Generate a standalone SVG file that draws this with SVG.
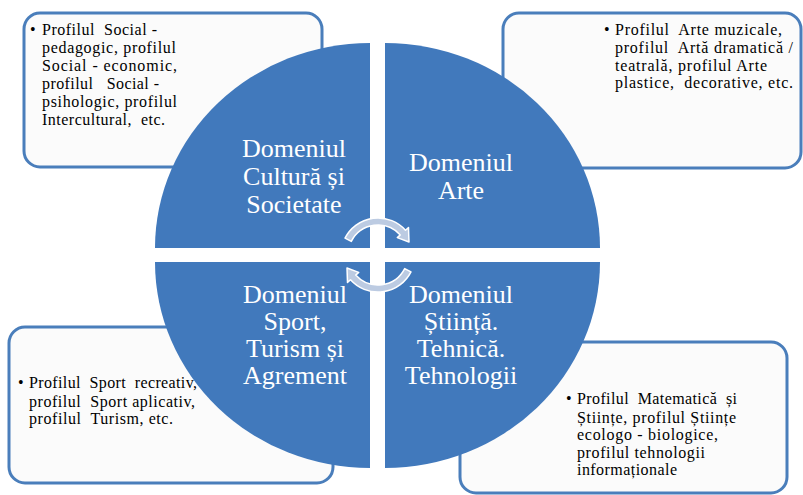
<svg xmlns="http://www.w3.org/2000/svg" width="803" height="495" viewBox="0 0 803 495">
<style>
.box{fill:#fbfbfb;stroke:#4a7ebb;stroke-width:3}
.bt{font-family:'Liberation Serif','Tinos','DejaVu Serif',serif;font-size:16px;fill:#000;white-space:pre}
.q{fill:#4179bc}
.ql{font-family:'Liberation Serif','Tinos','DejaVu Serif',serif;font-size:26px;fill:#fff;text-anchor:middle}
.arr{fill:#bccbe2;stroke:#fff;stroke-width:1.5;stroke-linejoin:round}
</style>
<defs>
<path id="carrow" d="M345 238.2 A37 37 0 0 1 405.5 230.2 L408.5 227.6 L409 242 L397.3 237.6 L400.3 234.9 A30 30 0 0 0 351.3 241.4 Z"/>
</defs>
<rect width="803" height="495" fill="#fff"/>
<g id="box-cultura">
<rect class="box" x="24" y="13" width="298" height="154" rx="16"/>
<text class="bt" x="30" y="35">&#x2022;</text>
<text class="bt" x="42" y="35" textLength="115">Profilul  Social -</text>
<text class="bt" x="42" y="53" textLength="134">pedagogic, profilul</text>
<text class="bt" x="42" y="71" textLength="135">Social - economic,</text>
<text class="bt" x="42" y="89" textLength="117">profilul   Social -</text>
<text class="bt" x="42" y="107" textLength="135">psihologic, profilul</text>
<text class="bt" x="42" y="125" textLength="123">Intercultural,  etc.</text>
</g>
<g id="box-arte">
<rect class="box" x="503" y="13" width="298" height="155" rx="16"/>
<text class="bt" x="604" y="35">&#x2022;</text>
<text class="bt" x="615" y="35" textLength="167">Profilul  Arte muzicale,</text>
<text class="bt" x="615" y="53" textLength="178">profilul  Art&#x103; dramatic&#x103; /</text>
<text class="bt" x="615" y="71" textLength="152">teatral&#x103;, profilul Arte</text>
<text class="bt" x="615" y="88" textLength="178">plastice,  decorative, etc.</text>
</g>
<g id="box-sport">
<rect class="box" x="9" y="327" width="324" height="156" rx="16"/>
<text class="bt" x="18" y="388">&#x2022;</text>
<text class="bt" x="29" y="388" textLength="168">Profilul  Sport  recreativ,</text>
<text class="bt" x="29" y="407" textLength="166">profilul  Sport aplicativ,</text>
<text class="bt" x="29" y="424" textLength="144">profilul  Turism, etc.</text>
</g>
<g id="box-stiinta">
<rect class="box" x="460" y="342" width="327" height="151" rx="16"/>
<text class="bt" x="566" y="404">&#x2022;</text>
<text class="bt" x="577" y="404" textLength="160">Profilul  Matematic&#x103;  &#x219;i</text>
<text class="bt" x="577" y="423" textLength="159">&#x218;tiin&#x21B;e, profilul &#x218;tiin&#x21B;e</text>
<text class="bt" x="577" y="440" textLength="141">ecologo - biologice,</text>
<text class="bt" x="577" y="458" textLength="128">profilul tehnologii</text>
<text class="bt" x="577" y="475" textLength="100">informa&#x21B;ionale</text>
</g>
<g id="q-cultura">
<path class="q" d="M370 248 L155 248 A215 205 0 0 1 370 43 Z"/>
<text class="ql" x="294" y="157">Domeniul</text>
<text class="ql" x="294" y="185">Cultur&#x103; &#x219;i</text>
<text class="ql" x="294" y="213">Societate</text>
</g>
<g id="q-arte">
<path class="q" d="M385 248 L385 43 A215 205 0 0 1 600 248 Z"/>
<text class="ql" x="461" y="171">Domeniul</text>
<text class="ql" x="461" y="199">Arte</text>
</g>
<g id="q-sport">
<path class="q" d="M370 262 L370 468 A215 206 0 0 1 155 262 Z"/>
<text class="ql" x="295" y="303">Domeniul</text>
<text class="ql" x="295" y="330">Sport,</text>
<text class="ql" x="295" y="357">Turism &#x219;i</text>
<text class="ql" x="295" y="384">Agrement</text>
</g>
<g id="q-stiinta">
<path class="q" d="M385 262 L600 262 A215 206 0 0 1 385 468 Z"/>
<text class="ql" x="461" y="303">Domeniul</text>
<text class="ql" x="461" y="330">&#x218;tiin&#x21B;&#x103;.</text>
<text class="ql" x="461" y="357">Tehnic&#x103;.</text>
<text class="ql" x="461" y="384">Tehnologii</text>
</g>
<g id="connectors">
<use href="#carrow" class="arr"/>
<use href="#carrow" class="arr" transform="rotate(180 378 255)"/>
</g>
</svg>
